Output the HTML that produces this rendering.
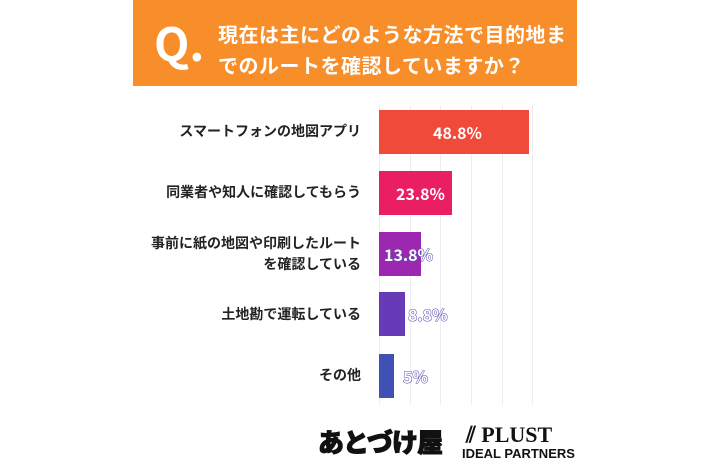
<!DOCTYPE html>
<html><head><meta charset="utf-8"><style>
body{margin:0;width:710px;height:474px;background:#fff;position:relative;overflow:hidden;font-family:"Liberation Sans","Noto Sans CJK JP",sans-serif}
.hdr{position:absolute;left:133px;top:0;width:444px;height:86px;background:#f78e2a}
.q{position:absolute;left:154px;top:14px;color:#fff;font-size:46px;font-weight:bold;font-family:"Noto Sans CJK JP",sans-serif;line-height:56px}
.qt{position:absolute;left:218px;top:18px;color:#fff;font-size:20px;font-weight:bold;line-height:31px;letter-spacing:0.5px;font-family:"Noto Sans CJK JP",sans-serif}
.g{position:absolute;top:105px;height:300px;width:1px;background:#ececf2}
.bar{position:absolute;left:379px;height:44px}
.lab{position:absolute;right:349px;font-size:14px;font-weight:bold;color:#222;text-align:right;line-height:21px;font-family:"Noto Sans CJK JP",sans-serif}
.v{position:absolute;font-size:16px;font-weight:bold;color:#fff;line-height:44px;font-family:"Noto Sans CJK JP",sans-serif}
.o{color:#fff;-webkit-text-stroke:1px #5a4fb0;paint-order:stroke fill}
</style></head><body>
<div class="hdr"></div>
<div class="q">Q.</div>
<div class="qt">現在は主にどのような方法で目的地ま<br>でのルートを確認していますか？</div>
<div class="g" style="left:379px"></div><div class="g" style="left:410px"></div><div class="g" style="left:440px"></div><div class="g" style="left:471px"></div><div class="g" style="left:502px"></div><div class="g" style="left:532px"></div>
<div class="bar" style="top:110px;width:150px;background:#f04a3a"></div>
<div class="bar" style="top:171px;width:73px;background:#e91e63"></div>
<div class="bar" style="top:232px;width:42px;background:#9c27b0"></div>
<div class="bar" style="top:292px;width:26px;background:#673ab7"></div>
<div class="bar" style="top:354px;width:15px;background:#3f51b5"></div>
<div class="v" style="left:433px;top:110px">48.8%</div>
<div class="v" style="left:396px;top:171px">23.8%</div>
<div class="v o" style="left:384px;top:232px">13.8%</div>
<div class="v o" style="left:408px;top:292px">8.8%</div>
<div class="v o" style="left:403px;top:354px">5%</div>
<div class="lab" style="top:121px">スマートフォンの地図アプリ</div>
<div class="lab" style="top:182px">同業者や知人に確認してもらう</div>
<div class="lab" style="top:233px">事前に紙の地図や印刷したルート<br>を確認している</div>
<div class="lab" style="top:304px">土地勘で運転している</div>
<div class="lab" style="top:365px">その他</div>
<div style="position:absolute;left:318px;top:425px;font-size:26px;font-weight:900;color:#111;-webkit-text-stroke:1px #111;font-family:'Noto Sans CJK JP',sans-serif;line-height:34px;letter-spacing:-1px">あとづけ屋</div>
<div style="position:absolute;left:462px;top:424px;font-size:11px;font-weight:bold;color:#111;line-height:18px">
<div style="font-size:22px;font-family:'Liberation Serif',serif;line-height:22px;padding-left:4px">⫽ PLUST</div>
<div style="font-size:13px;line-height:16px">IDEAL PARTNERS</div></div>
</body></html>
